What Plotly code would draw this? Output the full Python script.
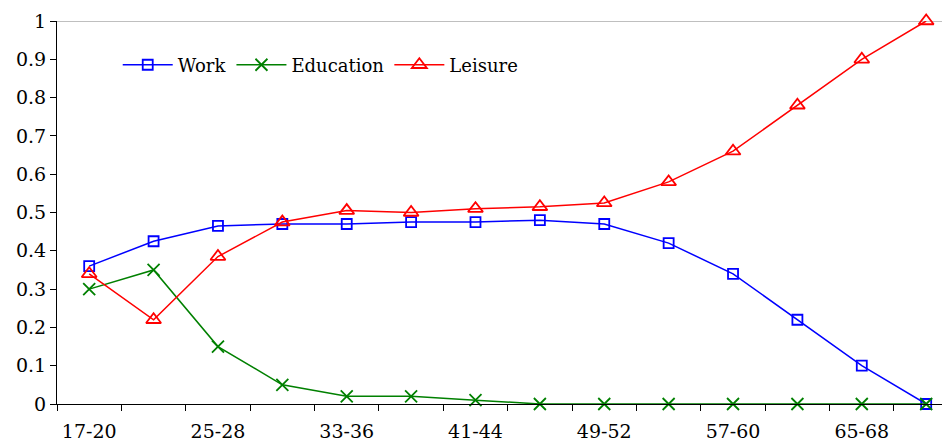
import plotly.graph_objects as go

categories = ["17-20", "21-24", "25-28", "29-32", "33-36", "37-40", "41-44",
              "45-48", "49-52", "53-56", "57-60", "61-64", "65-68", "69-72"]
work = [0.36, 0.425, 0.465, 0.47, 0.47, 0.475, 0.475, 0.48, 0.47, 0.42, 0.34, 0.22, 0.10, 0.0]
education = [0.30, 0.35, 0.15, 0.05, 0.02, 0.02, 0.01, 0.0, 0.0, 0.0, 0.0, 0.0, 0.0, 0.0]
leisure = [0.34, 0.22, 0.385, 0.475, 0.505, 0.50, 0.51, 0.515, 0.525, 0.58, 0.66, 0.78, 0.90, 1.0]
y_ticks = [0, 0.1, 0.2, 0.3, 0.4, 0.5, 0.6, 0.7, 0.8, 0.9, 1]
y_tick_labels = ["0", "0.1", "0.2", "0.3", "0.4", "0.5", "0.6", "0.7", "0.8", "0.9", "1"]

idx = list(range(len(categories)))
FONT = "DejaVu Serif"

fig = go.Figure()
fig.add_trace(go.Scatter(
    x=idx, y=work, name="Work", mode="lines+markers",
    line=dict(color="#0000FF", width=1.5),
    marker=dict(symbol="square-open", size=10, color="#0000FF", line=dict(width=1.8)),
    cliponaxis=False))
fig.add_trace(go.Scatter(
    x=idx, y=education, name="Education", mode="lines+markers",
    line=dict(color="#008000", width=1.5),
    marker=dict(symbol="x-thin-open", size=12, color="#008000", line=dict(width=1.8, color="#008000")),
    cliponaxis=False))
fig.add_trace(go.Scatter(
    x=idx, y=leisure, name="Leisure", mode="lines+markers",
    line=dict(color="#FF0000", width=1.5),
    marker=dict(symbol="triangle-up-open", size=13, color="#FF0000", line=dict(width=1.8)),
    cliponaxis=False))

fig.add_shape(type="line", xref="paper", yref="y", x0=0, x1=1, y0=1, y1=1,
              line=dict(color="#808080", width=1), layer="below")

fig.update_layout(
    width=942, height=437,
    margin=dict(l=49, r=0, t=13, b=41),
    paper_bgcolor="white", plot_bgcolor="white",
    font=dict(family=FONT, size=19, color="black"),
    showlegend=True,
    legend=dict(orientation="h", x=0.068, y=0.885, xanchor="left", yanchor="middle",
                font=dict(family=FONT, size=18, color="black"),
                bgcolor="rgba(0,0,0,0)", itemwidth=50, itemclick=False),
    xaxis=dict(
        range=[-0.5, 13.37], showgrid=False, zeroline=False, automargin=False,
        showline=True, linecolor="black", linewidth=1,
        tickmode="array", tickvals=idx[::2], ticktext=categories[::2],
        ticks="", ticklen=0, ticklabelstandoff=10,
        tickfont=dict(family=FONT, size=19, color="black"),
        minor=dict(tickmode="linear", tick0=-0.5, dtick=1, ticks="outside",
                   ticklen=6, tickcolor="black", tickwidth=1, showgrid=False),
    ),
    yaxis=dict(
        range=[0, 1], showgrid=False, zeroline=False, automargin=False,
        showline=True, linecolor="black", linewidth=1,
        tickmode="array", tickvals=y_ticks, ticktext=y_tick_labels,
        ticks="outside", ticklen=6, tickcolor="black",
        tickfont=dict(family=FONT, size=19, color="black"),
    ),
)

fig.write_html("out.html")
